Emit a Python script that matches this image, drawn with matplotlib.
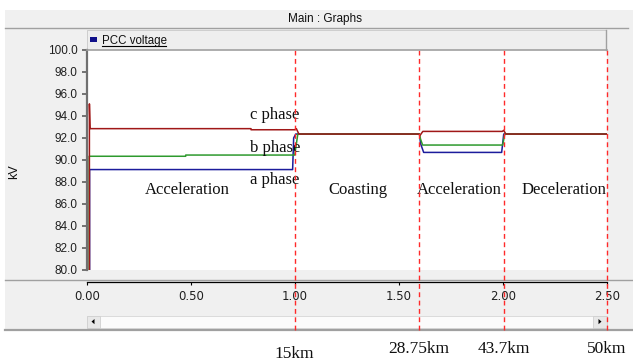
"""PCC voltage of the three phases along a train run, drawn as a PSCAD graph."""

import numpy
import matplotlib
matplotlib.use('Agg')
import matplotlib.pyplot as plt
import matplotlib.transforms as mtransforms
from matplotlib.patches import Rectangle, Polygon
from matplotlib.lines import Line2D

# phase voltages in kV against time in s
time_a = [0.0, 0.014, 0.014, 0.99, 0.995, 1.005, 1.6, 1.605, 1.62,
          1.995, 2.005, 2.5]
volt_a = [0.0, 0.0, 89.13, 89.13, 92.0, 92.36, 92.36, 91.5, 90.69,
          90.69, 92.36, 92.36]
time_b = [0.0, 0.012, 0.012, 0.476, 0.476, 1.0, 1.015, 1.6, 1.605, 1.615,
          2.0, 2.01, 2.5]
volt_b = [0.0, 0.0, 90.34, 90.34, 90.45, 90.45, 92.36, 92.36, 91.9, 91.36,
          91.36, 92.36, 92.36]
time_c = [0.0, 0.013, 0.013, 0.016, 0.79, 0.79, 1.0, 1.008, 1.02, 1.598,
          1.603, 1.616, 1.998, 2.005, 2.015, 2.5]
volt_c = [0.0, 0.0, 95.1, 92.85, 92.85, 92.75, 92.75, 92.85, 92.36, 92.36,
          92.25, 92.6, 92.6, 92.7, 92.36, 92.36]

# end of each running stage (time in s) and the distance reached there
stage_end = [1.0, 1.598, 2.007, 2.5]
stage_km = ['15km', '28.75km', '43.7km', '50km']
stage_names = ['Acceleration', 'Coasting', 'Acceleration', 'Deceleration']
phase_names = ['c phase', 'b phase', 'a phase']

y_ticks = [80, 82, 84, 86, 88, 90, 92, 94, 96, 98, 100]
x_ticks = [0.0, 0.5, 1.0, 1.5, 2.0, 2.5]

W, H = 633, 361
PANEL = '#f0f0f0'
EDGE = '#a0a0a0'


def box(x0, y0, x1, y1):
    """Pixel box (from top left) to figure fraction rect."""
    return [x0 / W, 1 - y1 / H, (x1 - x0) / W, (y1 - y0) / H]


def rect(fig, x0, y0, x1, y1, **kw):
    l, b, w, h = box(x0, y0, x1, y1)
    kw.setdefault('zorder', -5)
    fig.add_artist(Rectangle((l, b), w, h, transform=fig.transFigure, **kw))


def hline(fig, x0, x1, y, **kw):
    kw.setdefault('zorder', -4)
    fig.add_artist(Line2D([x0 / W, x1 / W], [1 - y / H, 1 - y / H],
                          transform=fig.transFigure, **kw))


def draw_panel(fig):
    rect(fig, 5, 10, 633, 331, facecolor=PANEL, edgecolor='none')
    hline(fig, 5, 628, 28.3, color=EDGE, lw=1.0)
    fig.text(325 / W, 1 - 19 / H, 'Main : Graphs', ha='center', va='center',
             fontsize=8.5, family='Liberation Sans', color='#101010')
    # legend strip
    rect(fig, 86.7, 30, 605.7, 50, facecolor='#eeeeee', edgecolor='#c8c8c8',
         lw=0.6)
    hline(fig, 86.7, 606.7, 50, color=EDGE, lw=1.2, zorder=3)
    fig.add_artist(Line2D([605.7 / W] * 2, [1 - 30 / H, 1 - 50 / H],
                          transform=fig.transFigure, color=EDGE, lw=1.0))
    rect(fig, 90, 37.3, 96.7, 41.7, facecolor='#10108a', edgecolor='none',
         zorder=3)
    fig.text(101.5 / W, 1 - 40.7 / H, 'PCC voltage', ha='left', va='center',
             fontsize=8.3, family='Liberation Sans', color='#101010')
    hline(fig, 101.5, 166, 46, color='black', lw=0.8, zorder=3)
    # separator above the time axis and bottom edge of panel
    hline(fig, 5, 633, 280, color=EDGE, lw=1.0)
    hline(fig, 5, 633, 329.8, color=EDGE, lw=1.6)
    # scroll bar
    rect(fig, 86.7, 315.7, 606.7, 327.5, facecolor='#fbfbfb',
         edgecolor='#d6d6d6', lw=0.6)
    rect(fig, 86.7, 315.7, 100, 327.5, facecolor='#e8e8e8',
         edgecolor='#d0d0d0', lw=0.6)
    rect(fig, 593, 315.7, 606.7, 327.5, facecolor='#e8e8e8',
         edgecolor='#d0d0d0', lw=0.6)
    for tip, back in ((91.5, 94.5), (601.5, 598.5)):
        pts = [(tip / W, 1 - 321.6 / H), (back / W, 1 - 319 / H),
               (back / W, 1 - 324.2 / H)]
        fig.add_artist(Polygon(pts, closed=True, transform=fig.transFigure,
                               facecolor='black', edgecolor='none',
                               zorder=-3))
    fig.text(14 / W, 1 - 172 / H, 'kV', rotation=90, ha='center',
             va='center', fontsize=9, family='Liberation Sans',
             color='#101010')


def draw_graph(fig):
    ax = fig.add_axes(box(86.7, 50, 606.7, 270))
    ax.set_facecolor('white')
    ax.plot(time_a, volt_a, color='#1c1c9c', lw=1.1)
    ax.plot(time_b, volt_b, color='#2e9a2e', lw=1.1)
    ax.plot(time_c, volt_c, color='#a01818', lw=1.1)
    ax.set_xlim(0, 2.5)
    ax.set_ylim(80, 100)

    ax.set_yticks(y_ticks)
    ax.set_yticklabels(['{0:.1f}'.format(v) for v in y_ticks])
    ax.set_xticks(x_ticks)
    ax.set_xticklabels(['{0:.2f}'.format(v) for v in x_ticks])
    ax.tick_params(axis='y', direction='out', length=3.6, width=1.1,
                   color='#505050', pad=2.9, labelsize=8.5,
                   labelcolor='#202020')
    ax.tick_params(axis='x', direction='out', length=2.2, width=0.8,
                   color='black', pad=3.0, labelsize=8.5,
                   labelcolor='#202020')
    for label in ax.get_xticklabels() + ax.get_yticklabels():
        label.set_family('Liberation Sans')
    for side in ('top', 'right'):
        ax.spines[side].set_visible(False)
    ax.spines['left'].set_color('#707070')
    ax.spines['left'].set_linewidth(1.6)
    ax.spines['bottom'].set_position(('outward', 12.3 * 72 / 100))
    ax.spines['bottom'].set_linewidth(0.9)

    # stage boundaries run down through the whole panel
    for t in stage_end:
        ax.axvline(t, ymin=-0.2727, ymax=1, clip_on=False, color='#ff2a2a',
                   lw=1.0, dashes=(3.5, 2.5), zorder=5)

    serif = dict(family='Liberation Serif', fontsize=12, color='#101010')
    for name, y in zip(phase_names, [93.76, 90.71, 87.83]):
        ax.text(0.905, y, name, ha='center', va='baseline', **serif)
    for name, t in zip(stage_names, [0.482, 1.302, 1.793, 2.295]):
        ax.text(t, 86.9, name, ha='center', va='baseline', **serif)

    below = mtransforms.blended_transform_factory(ax.transData,
                                                  fig.transFigure)
    for t, km in zip(stage_end, stage_km):
        ypix = 357.5 if km == '15km' else 353.3
        ax.text(t, 1 - ypix / H, km, transform=below, ha='center',
                va='baseline', clip_on=False, family='Liberation Serif',
                fontsize=12.5, color='#101010')
    return ax


def main():
    fig = plt.figure(figsize=(W / 100, H / 100), dpi=100)
    fig.patch.set_facecolor('white')
    draw_panel(fig)
    draw_graph(fig)
    fig.savefig('out.png', dpi=100)


if __name__ == '__main__':
    main()
